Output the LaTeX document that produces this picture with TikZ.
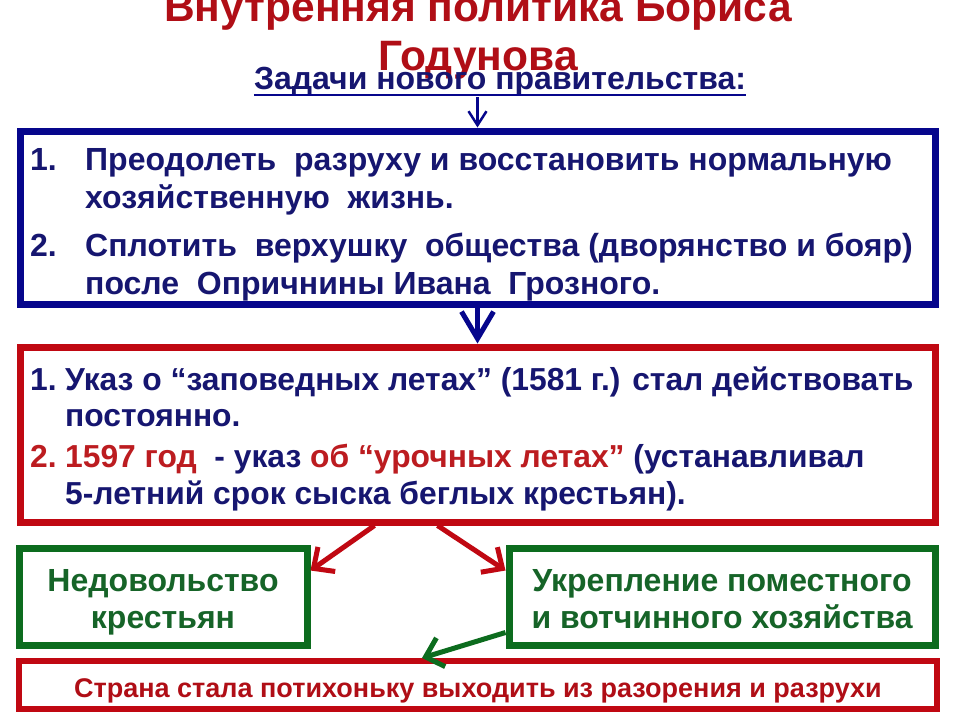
\documentclass[tikz,border=0pt]{standalone}
\usepackage{fontspec}
\setmainfont{Liberation Sans}
\usetikzlibrary{arrows.meta,calc}
\definecolor{titlered}{RGB}{176,14,22}
\definecolor{navytext}{RGB}{22,22,112}
\definecolor{navyline}{RGB}{6,6,140}
\definecolor{redline}{RGB}{192,8,18}
\definecolor{redtext}{RGB}{188,28,32}
\definecolor{greenline}{RGB}{12,108,30}
\definecolor{greentext}{RGB}{22,100,40}
\tikzset{
  frame/.style={draw, rectangle, inner sep=0pt, line width=7pt},
  bluebox/.style={frame, draw=navyline},
  redbox/.style={frame, draw=redline},
  greenbox/.style={frame, draw=greenline},
  txt/.style={anchor=base west, inner sep=0pt, font=\fontsize{32}{37}\selectfont\bfseries, text=navytext},
  rtxt/.style={anchor=base west, inner sep=0pt, font=\fontsize{31.8}{36}\selectfont\bfseries, text=navytext},
  gtxt/.style={anchor=base, inner sep=0pt, font=\fontsize{32}{37}\selectfont\bfseries, text=greentext},
  bluearrow/.style={draw=navyline, line width=3.5pt, -{Straight Barb[length=14pt,width=18pt,line width=2.5pt]}},
  bigbluearrow/.style={draw=navyline, line width=5pt, -{Straight Barb[length=27pt,width=32pt,line width=5pt]}},
  redarrow/.style={draw=redline, line width=5pt, -{Straight Barb[length=16pt,width=30pt,line width=5pt]}},
  greenarrow/.style={draw=greenline, line width=5pt, -{Straight Barb[length=16pt,width=30pt,line width=5pt]}},
}
\begin{document}
\begin{tikzpicture}[x=1pt,y=-1pt]
\useasboundingbox (0,0) rectangle (960,720);
\fill[white] (0,0) rectangle (960,720);
% title
\node (title1) [anchor=base, inner sep=0pt, font=\fontsize{42.5}{45}\selectfont\bfseries, text=titlered] at (478,21) {Внутренняя политика Бориса};
\node (title2) [anchor=base, inner sep=0pt, font=\fontsize{42.5}{45}\selectfont\bfseries, text=titlered] at (478,70) {Годунова};
\node (tasks) [anchor=base, inner sep=0pt, font=\fontsize{32}{36}\selectfont\bfseries, text=navytext] at (500,89) {Задачи нового правительства:};
\draw[navyline, line width=2.2pt] ($(tasks.base west)+(0,6)$) -- ($(tasks.base east)+(0,6)$);
% boxes
\node[bluebox, minimum width=915pt, minimum height=173pt] (blue) at (477.5,217.5) {};
\node[redbox, minimum width=915pt, minimum height=175pt] (red) at (477.5,434.5) {};
\node[greenbox, minimum width=288pt, minimum height=97pt] (gleft) at (163,596.5) {};
\node[greenbox, minimum width=426pt, minimum height=97pt] (gright) at (722,596.5) {};
\node[redbox, line width=6pt, minimum width=918pt, minimum height=48pt] (bottom) at (478,685) {};
% blue box text
\node[txt] (b1n) at (30,170) {1.};
\node[txt] (b1a) at (85,170) {Преодолеть~ разруху и восстановить нормальную};
\node[txt] (b1b) at (85,208) {хозяйственную~ жизнь.};
\node[txt] (b2n) at (30,256) {2.};
\node[txt] (b2a) at (85,256) {Сплотить~ верхушку~ общества (дворянство и бояр)};
\node[txt] (b2b) at (85,294) {после~ Опричнины Ивана~ Грозного.};
% red box text
\node[rtxt] (r1n) at (30,390) {1.};
\node[rtxt] (r1a) at (65,390) {Указ о “заповедных летах” (1581 г.) стал действовать};
\node[rtxt] (r1b) at (65,426) {постоянно.};
\node[rtxt, text=redtext] (r2n) at (30,467) {2.};
\node[rtxt] (r2a) at (65,467) {{\color{redtext}1597 год}~ - указ {\color{redtext}об “урочных летах”} (устанавливал};
\node[rtxt] (r2b) at (65,504) {5-летний срок сыска беглых крестьян).};
% green box text
\node[gtxt] (gl1) at (163,591) {Недовольство};
\node[gtxt] (gl2) at (163,628) {крестьян};
\node[gtxt] (gr1) at (722,591) {Укрепление поместного};
\node[gtxt] (gr2) at (722,628) {и вотчинного хозяйства};
% bottom text
\node (bt) [inner sep=0pt, anchor=base, font=\fontsize{27}{30}\selectfont\bfseries, text=titlered] at (478,697.5) {Страна стала потихоньку выходить из разорения и разрухи};
% connectors
\draw[bluearrow] ([yshift=-8pt]blue.north |- tasks.base) -- (blue.north);
\draw[bigbluearrow] (blue.south) -- (red.north);
\draw[redarrow] ([xshift=-103pt]red.south) -- ([yshift=-26pt]gleft.north east);
\draw[redarrow] ([xshift=-40pt]red.south) -- ([yshift=-26pt]gright.north west);
\draw[greenarrow] ([yshift=-36pt]gright.west) -- ([xshift=-56pt]bottom.north);
\end{tikzpicture}
\end{document}
